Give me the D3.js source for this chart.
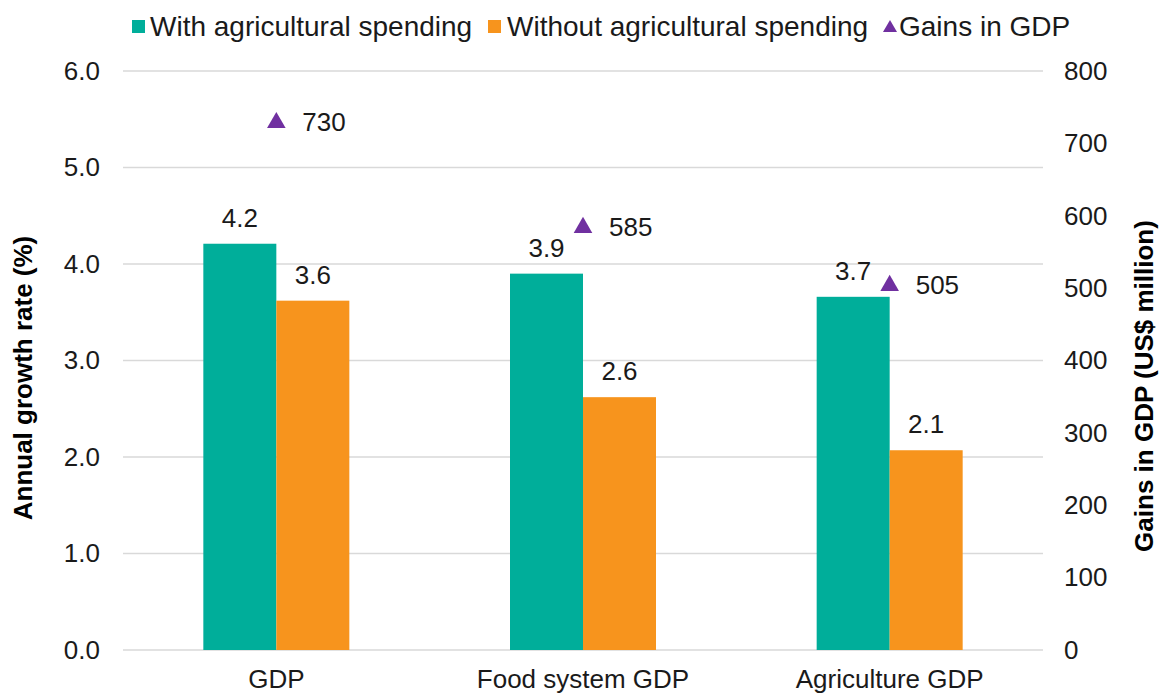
<!DOCTYPE html>
<html>
<head>
<meta charset="utf-8">
<script src="https://cdn.jsdelivr.net/npm/d3@7"></script>
<style>
  html, body { margin: 0; padding: 0; background: #ffffff; }
  svg { display: block; font-family: "Liberation Sans", Arial, sans-serif; }
</style>
</head>
<body>
<svg id="chart" width="1160" height="694"></svg>
<script>
// ---- data ----
const categories = ["GDP", "Food system GDP", "Agriculture GDP"];
const seriesNames = ["With agricultural spending", "Without agricultural spending"];
const withSpending = [4.21, 3.90, 3.66];
const withoutSpending = [3.62, 2.62, 2.07];
const gainsName = "Gains in GDP";
const gains = [730, 585, 505];
const leftTicks = [0, 1, 2, 3, 4, 5, 6];
const rightTicks = [0, 100, 200, 300, 400, 500, 600, 700, 800];
const leftTitle = "Annual growth rate (%)";
const rightTitle = "Gains in GDP (US$ million)";

// ---- layout ----
const plot = { left: 123, right: 1043, top: 71, bottom: 650 };
const colors = { with: "#00AE9A", without: "#F7941D", gains: "#7030A0", grid: "#D9D9D9", text: "#1a1a1a" };
const fs = 26;
const legendFs = 28;

const svg = d3.select("#chart");

const x = d3.scaleBand().domain(categories).range([plot.left, plot.right]).padding(0);
const groupW = 146;
const x1 = d3.scaleBand().domain(seriesNames).range([0, groupW]).padding(0);
const yL = d3.scaleLinear().domain([0, 6]).range([plot.bottom, plot.top]);
const yR = d3.scaleLinear().domain([0, 800]).range([plot.bottom, plot.top]);

// gridlines
svg.append("g").selectAll("line").data(leftTicks).join("line")
  .attr("x1", plot.left).attr("x2", plot.right)
  .attr("y1", d => yL(d)).attr("y2", d => yL(d))
  .attr("stroke", colors.grid).attr("stroke-width", 1.5);

// left axis
const leftAxis = d3.axisLeft(yL).tickValues(leftTicks).tickFormat(d3.format(".1f")).tickSize(0).tickPadding(0);
const gL = svg.append("g").attr("transform", `translate(${plot.left - 23},0)`).call(leftAxis);
gL.select(".domain").remove();
gL.selectAll("text").attr("font-size", fs).attr("fill", colors.text).attr("font-family", null);

// right axis
const rightAxis = d3.axisRight(yR).tickValues(rightTicks).tickFormat(d3.format("d")).tickSize(0).tickPadding(0);
const gR = svg.append("g").attr("transform", `translate(${plot.right + 21},0)`).call(rightAxis);
gR.select(".domain").remove();
gR.selectAll("text").attr("font-size", fs).attr("fill", colors.text).attr("font-family", null);

// bottom axis labels
const bottomAxis = d3.axisBottom(x).tickSize(0).tickPadding(0);
const gB = svg.append("g").attr("transform", `translate(0,${plot.bottom})`).call(bottomAxis);
gB.select(".domain").remove();
gB.selectAll("text").attr("font-size", fs).attr("fill", colors.text).attr("font-family", null)
  .attr("dy", null).attr("y", 38);

// bars
const rows = categories.map((c, i) => ({ cat: c, vals: [withSpending[i], withoutSpending[i]] }));
const barColors = [colors.with, colors.without];
const groups = svg.append("g").selectAll("g").data(rows).join("g")
  .attr("transform", d => `translate(${x(d.cat) + x.bandwidth() / 2 - groupW / 2},0)`);
groups.selectAll("rect").data(d => d.vals.map((v, j) => ({ v, j }))).join("rect")
  .attr("x", d => x1(seriesNames[d.j]))
  .attr("width", x1.bandwidth())
  .attr("y", d => yL(d.v))
  .attr("height", d => yL(0) - yL(d.v))
  .attr("fill", d => barColors[d.j]);
groups.selectAll("text").data(d => d.vals.map((v, j) => ({ v, j }))).join("text")
  .attr("x", d => x1(seriesNames[d.j]) + x1.bandwidth() / 2)
  .attr("y", d => yL(d.v) - 17)
  .attr("text-anchor", "middle")
  .attr("font-size", fs).attr("fill", colors.text)
  .text(d => d3.format(".1f")(d.v));

// gains triangles
const tri = d3.symbol().type(d3.symbolTriangle).size(150);
const gg = svg.append("g").selectAll("g").data(categories.map((c, i) => ({ cat: c, v: gains[i] }))).join("g")
  .attr("transform", d => `translate(${x(d.cat) + x.bandwidth() / 2},${yR(d.v)})`);
gg.append("path").attr("d", tri).attr("fill", colors.gains).attr("transform", "translate(0,1)");
gg.append("text").attr("x", 26).attr("y", 0).attr("dy", "0.35em")
  .attr("font-size", fs).attr("fill", colors.text).text(d => d.v);

// axis titles
svg.append("text")
  .attr("transform", `translate(32,378) rotate(-90)`)
  .attr("text-anchor", "middle").attr("font-size", fs).attr("font-weight", "bold").attr("fill", "#000")
  .text(leftTitle);
svg.append("text")
  .attr("transform", `translate(1153,386) rotate(-90)`)
  .attr("text-anchor", "middle").attr("font-size", fs).attr("font-weight", "bold").attr("fill", "#000")
  .text(rightTitle);

// legend
const legend = svg.append("g").attr("transform", "translate(0,26)");
const legItems = [
  { name: seriesNames[0], color: colors.with, shape: "rect", x: 132 },
  { name: seriesNames[1], color: colors.without, shape: "rect", x: 488 },
  { name: gainsName, color: colors.gains, shape: "tri", x: 884 }
];
const legTextX = [150, 507, 899];
legItems.forEach((it, i) => {
  if (it.shape === "rect") {
    legend.append("rect").attr("x", it.x).attr("y", -6).attr("width", 13).attr("height", 13).attr("fill", it.color);
  } else {
    legend.append("path").attr("d", d3.symbol().type(d3.symbolTriangle).size(85)).attr("fill", it.color)
      .attr("transform", `translate(${it.x + 6},2)`);
  }
  legend.append("text").attr("x", legTextX[i]).attr("y", 0).attr("dy", "0.35em")
    .attr("font-size", legendFs).attr("fill", colors.text).text(it.name);
});
</script>
</body>
</html>
